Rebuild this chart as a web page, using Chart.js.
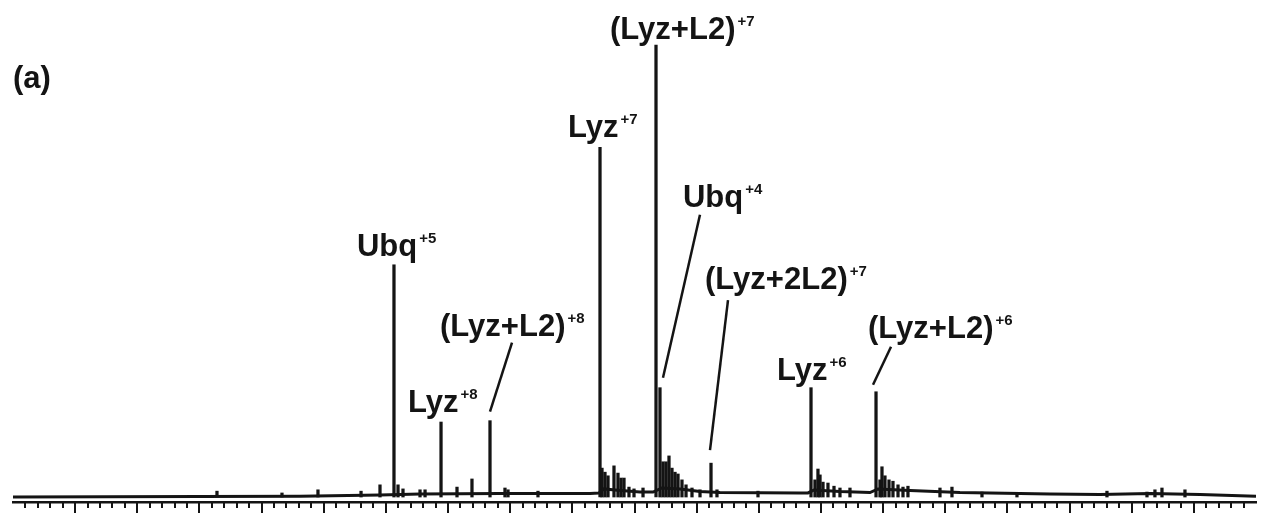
<!DOCTYPE html>
<html>
<head>
<meta charset="utf-8">
<script src="https://cdn.jsdelivr.net/npm/chart.js@4.4.1/dist/chart.umd.min.js"></script>
<style>
  html, body { margin: 0; padding: 0; background: #fff; }
  #spec { display: block; }
</style>
</head>
<body>
<canvas id="spec" width="1264" height="514"></canvas>
<script>
// --- Spectrum data (m/z, relative intensity %) ---
const peakMz = [
    1428.2, 1532.8, 1590.7, 1660.0, 1690.5, 1713.0, 1719.5, 1727.5, 1754.9, 1763.0,
    1788.7, 1814.4, 1838.5, 1867.5, 1891.6, 1896.5, 1944.7,
    2044.5, 2047.7, 2052.5, 2057.4, 2067.0, 2073.4, 2078.3, 2083.1, 2091.1, 2099.2, 2113.7,
    2134.6, 2141.0, 2145.9, 2150.7, 2155.5, 2160.3, 2165.2, 2170.0, 2176.4, 2182.9, 2192.5, 2205.4,
    2223.1, 2232.7, 2298.7,
    2384.0, 2390.4, 2395.2, 2398.5, 2403.3, 2411.3, 2421.0, 2430.6, 2446.7,
    2488.6, 2495.0, 2498.2, 2503.0, 2509.5, 2515.9, 2524.0, 2532.0, 2540.0,
    2591.5, 2610.8, 2659.1, 2715.4, 2860.2, 2924.6, 2937.4, 2948.7, 2985.7
];
const peakIntensity = [
    1.3, 0.9, 1.6, 1.3, 2.7, 51.4, 2.7, 1.8, 1.6, 1.6,
    16.6, 2.2, 4.0, 16.9, 2.0, 1.6, 1.3,
    77.4, 6.4, 5.5, 4.7, 6.9, 5.3, 4.2, 4.2, 2.2, 1.8, 2.0,
    100, 24.2, 7.8, 7.8, 9.1, 6.4, 5.5, 5.1, 3.8, 2.7, 2.0, 1.6,
    7.5, 1.6, 1.3,
    24.2, 3.8, 6.2, 4.9, 3.3, 3.1, 2.4, 2.0, 2.0,
    23.3, 3.8, 6.7, 4.7, 3.8, 3.5, 2.7, 2.2, 2.4,
    2.0, 2.2, 1.1, 0.9, 1.3, 1.1, 1.6, 2.0, 1.6
];

// chemical noise baseline under the peaks
const baseMz = [
    1100, 1400.9, 1561.8, 1690.5, 1754.9, 1883.6, 2028.4, 2042.9, 2050.9, 2068.6,
    2108.8, 2129.8, 2144.2, 2173.2, 2205.4, 2237.6, 2366.3, 2379.2, 2388.9, 2430.6,
    2478.9, 2491.8, 2543.3, 2623.7, 2768.5, 2849.0, 2929.5, 3009.9, 3100
];
const baseIntensity = [
    0.0, 0.1, 0.2, 0.45, 0.65, 0.8, 0.8, 0.9, 1.8, 1.55,
    1.1, 1.1, 2.0, 1.8, 1.2, 1.0, 0.9, 0.9, 1.55, 1.2,
    1.0, 1.8, 1.45, 1.0, 0.65, 0.55, 0.8, 0.55, 0.2
];

// peak annotations
const labelNames = ['Ubq', 'Lyz', '(Lyz+L2)', 'Lyz', '(Lyz+L2)', 'Ubq', '(Lyz+2L2)', 'Lyz', '(Lyz+L2)'];
const labelCharges = ['+5', '+8', '+8', '+7', '+7', '+4', '+7', '+6', '+6'];
const labelMz = [1713.0, 1788.7, 1867.5, 2044.5, 2134.6, 2141.0, 2223.1, 2384.0, 2488.6];

const INK = '#141414';
const FONT = '"Liberation Sans", Arial, sans-serif';

// label placement relative to the peak tip (px)
const labelOffsets = [[-37, -9], [-33, -10], [-50, -85], [-32, -10], [-46, -6], [23, -181], [-6, -174], [-34, -8], [-8, -54]];
// leader lines: label index -> [top end, bottom end] relative to the peak tip
const leaders = {
    2: [[22, -78], [0, -9]],
    5: [[40, -173], [3, -10]],
    6: [[17, -163], [-1, -13]],
    8: [[15, -45], [-3, -7]]
};

const specAnnotations = {
    id: 'specAnnotations',
    afterDraw(chart) {
        const { ctx, chartArea } = chart;
        const xs = chart.scales.x;
        const ys = chart.scales.y;
        ctx.save();

        // axis tick marks (major every 100, minor every 20)
        ctx.strokeStyle = INK;
        ctx.lineWidth = 2;
        xs.ticks.forEach(t => {
            if (t.value <= xs.min || t.value >= xs.max) return;
            const px = Math.round(xs.getPixelForValue(t.value));
            const len = t.value % 100 === 0 ? 11 : 6;
            ctx.beginPath();
            ctx.moveTo(px, chartArea.bottom);
            ctx.lineTo(px, chartArea.bottom + len);
            ctx.stroke();
        });

        // panel tag
        ctx.fillStyle = INK;
        ctx.textBaseline = 'alphabetic';
        ctx.font = 'bold 31px ' + FONT;
        ctx.fillText('(a)', 13, 88);

        labelMz.forEach((mz, i) => {
            const h = peakIntensity[peakMz.indexOf(mz)];
            const px = xs.getPixelForValue(mz);
            const py = ys.getPixelForValue(h);
            const lx = px + labelOffsets[i][0];
            const ly = py + labelOffsets[i][1];

            ctx.font = 'bold 31px ' + FONT;
            ctx.fillText(labelNames[i], lx, ly);
            const w = ctx.measureText(labelNames[i]).width;
            ctx.font = 'bold 15px ' + FONT;
            ctx.fillText(labelCharges[i], lx + w + 2, ly - 13);

            const ld = leaders[i];
            if (ld) {
                ctx.lineWidth = 2.5;
                ctx.beginPath();
                ctx.moveTo(px + ld[0][0], py + ld[0][1]);
                ctx.lineTo(px + ld[1][0], py + ld[1][1]);
                ctx.stroke();
            }
        });
        ctx.restore();
    }
};

document.addEventListener('DOMContentLoaded', () => {
    const ctx = document.getElementById('spec').getContext('2d');

    new Chart(ctx, {
        type: 'bar',
        data: {
            datasets: [
                {
                    type: 'bar',
                    data: peakMz.map((mz, i) => ({ x: mz, y: peakIntensity[i] })),
                    backgroundColor: INK,
                    barThickness: 2.6,
                    grouped: false,
                    order: 2
                },
                {
                    type: 'line',
                    data: baseMz.map((mz, i) => ({ x: mz, y: baseIntensity[i] })),
                    borderColor: INK,
                    borderWidth: 3,
                    pointRadius: 0,
                    tension: 0,
                    fill: false,
                    order: 1
                }
            ]
        },
        options: {
            responsive: false,
            maintainAspectRatio: false,
            animation: false,
            layout: { padding: { left: 13, right: 8, top: 0, bottom: 12 } },
            plugins: {
                legend: { display: false },
                tooltip: { enabled: false }
            },
            scales: {
                x: {
                    type: 'linear',
                    min: 1100,
                    max: 3100,
                    offset: false,
                    ticks: { display: false, stepSize: 20, autoSkip: false },
                    grid: { display: true, drawOnChartArea: false, drawTicks: false, offset: false },
                    border: { display: true, color: INK, width: 2.5 }
                },
                y: {
                    display: false,
                    min: -1.1,
                    max: 110
                }
            }
        },
        plugins: [specAnnotations]
    });
});
</script>
</body>
</html>
